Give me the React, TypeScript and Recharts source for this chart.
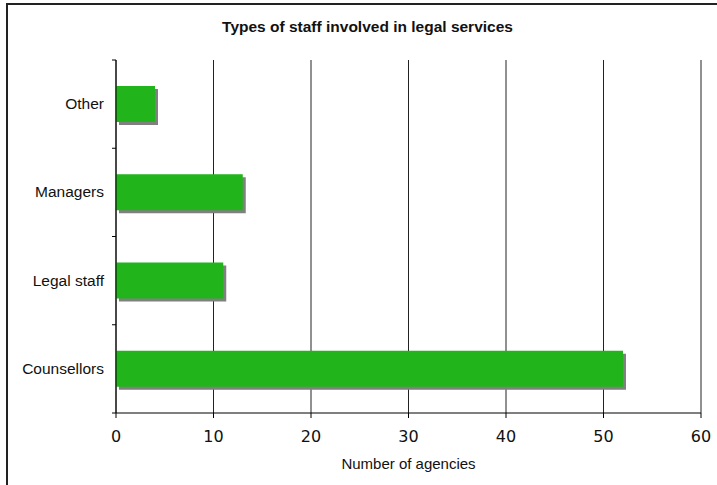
import { Bar, BarChart, CartesianGrid, XAxis, YAxis } from 'recharts'

const categories = ['Other', 'Managers', 'Legal staff', 'Counsellors']
const agencies = [4, 13, 11, 52]
const xTicks = [0, 10, 20, 30, 40, 50, 60]

const data = categories.map((name, i) => ({ name, agencies: agencies[i] }))

const W = 717
const H = 485
const M = { top: 60, right: 16, bottom: 42, left: 16 }
const BAND = (H - M.top - M.bottom - 30) / categories.length
const SANS = '"Liberation Sans", Arial, sans-serif'

function ShadowBar(p: any) {
  const { x, y, width, height } = p
  if (!width) return null
  return (
    <g>
      <rect x={x + 3} y={y + 3} width={width} height={height} fill="#808080" />
      <rect x={x} y={y} width={width} height={height} fill="#21b41b" />
    </g>
  )
}

function CategoryTick(p: any) {
  const { x, y, payload, index } = p
  return (
    <g>
      <text x={x - 12} y={y} dy={5} textAnchor="end" fontFamily={SANS} fontSize={15.5} fill="#111">
        {payload.value}
      </text>
      {index === 0 && <line x1={x - 4} x2={x} y1={y - BAND / 2} y2={y - BAND / 2} stroke="#000" />}
      <line x1={x - 4} x2={x} y1={y + BAND / 2} y2={y + BAND / 2} stroke="#000" />
    </g>
  )
}

export default function App() {
  return (
    <div style={{ position: 'absolute', left: 0, top: 0, width: W, height: H, background: '#fff' }}>
      <div
        style={{
          position: 'absolute',
          left: 6,
          top: 3,
          width: W - 6,
          height: H - 3,
          borderLeft: '2px solid #222',
          borderTop: '2px solid #222',
          boxSizing: 'border-box',
        }}
      />
      <div
        style={{
          position: 'absolute',
          left: 0,
          top: 18,
          width: W + 18,
          textAlign: 'center',
          fontFamily: SANS,
          fontWeight: 'bold',
          fontSize: 15.5,
          color: '#111',
        }}
      >
        Types of staff involved in legal services
      </div>
      <div style={{ position: 'absolute', left: 0, top: 0 }}>
        <BarChart width={W} height={H} data={data} layout="vertical" margin={M}>
          <CartesianGrid stroke="#222" horizontal={false} />
          <XAxis
            type="number"
            domain={[0, 60]}
            ticks={xTicks}
            interval={0}
            stroke="#000"
            tickSize={5}
            tickMargin={13}
            height={30}
            tick={{ fontFamily: '"DejaVu Sans", sans-serif', fontSize: 16, fill: '#111' }}
            label={{
              value: 'Number of agencies',
              position: 'bottom',
              offset: 15,
              style: { fontFamily: SANS, fontSize: 15, fill: '#111' },
            }}
          />
          <XAxis
            xAxisId="top"
            orientation="top"
            type="number"
            domain={[0, 60]}
            height={0}
            tick={false}
            tickLine={false}
            stroke="#888"
          />
          <YAxis
            type="category"
            dataKey="name"
            width={100}
            stroke="#000"
            tickSize={0}
            tickMargin={0}
            tick={<CategoryTick />}
          />
          <YAxis
            yAxisId="right"
            orientation="right"
            type="category"
            width={0}
            tick={false}
            tickLine={false}
            stroke="#888"
          />
          <Bar dataKey="agencies" barSize={36} shape={<ShadowBar />} isAnimationActive={false} />
        </BarChart>
      </div>
    </div>
  )
}
